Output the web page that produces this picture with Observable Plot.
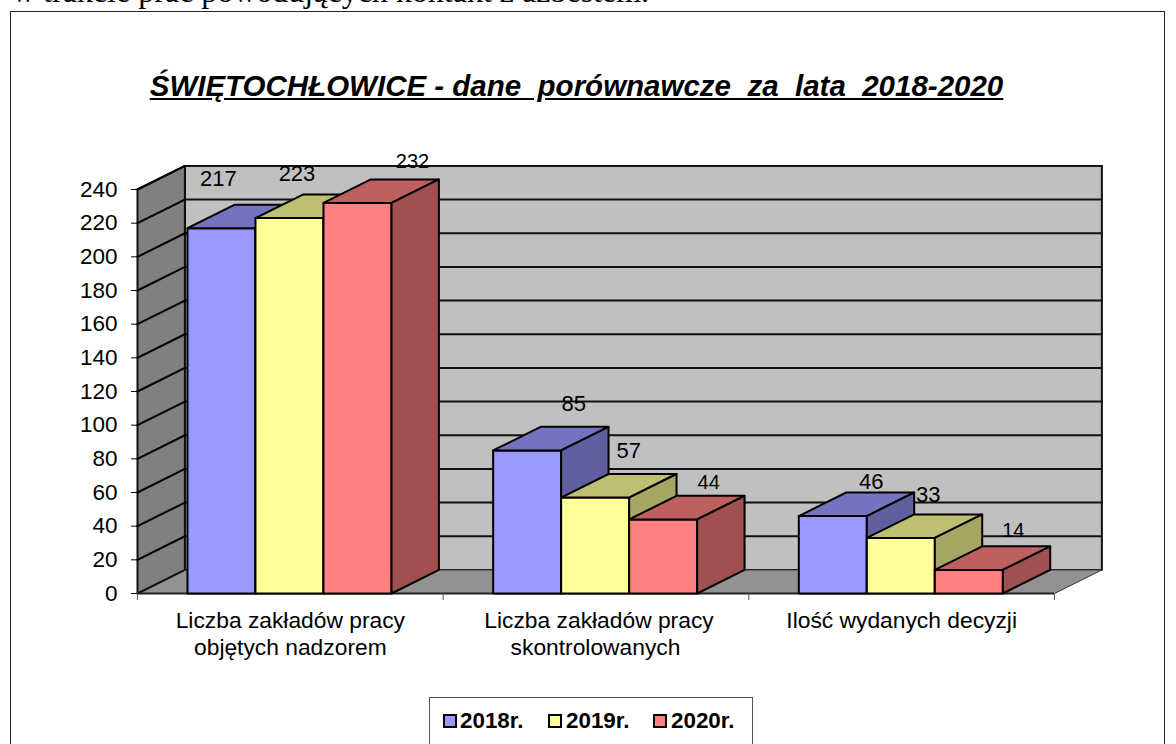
<!DOCTYPE html>
<html lang="pl">
<head>
<meta charset="utf-8">
<script src="https://cdn.jsdelivr.net/npm/d3@7"></script>
<script src="https://cdn.jsdelivr.net/npm/@observablehq/plot@0.6"></script>
<style>
  html, body { margin: 0; padding: 0; background: #fff; overflow: hidden; }
  .page { position: relative; width: 1176px; height: 744px; overflow: hidden; font-family: "Liberation Sans", Arial, sans-serif; color: #000; }
  .lead { position: absolute; left: 12px; top: -25px; font: 32px/32px "Liberation Serif", serif; white-space: nowrap; }
  .frame { position: absolute; left: 10px; top: 11px; width: 1155px; height: 800px; border: 1.5px solid #222; box-sizing: border-box; }
  .title { position: absolute; left: 0; width: 1153px; top: 70px; text-align: center; font: italic bold 29.5px/32px "Liberation Sans", Arial, sans-serif; text-decoration: underline; white-space: pre; }
  #chart { position: absolute; left: 0; top: 150px; }
  #chart svg { display: block; overflow: visible; }
  .legend { position: absolute; left: 429px; top: 697px; width: 324px; height: 70px; border: 1px solid #555; box-sizing: border-box; background: #fff; }
  .legend span.k { position: absolute; top: 16px; width: 10px; height: 10px; border: 2px solid #000; box-sizing: content-box; }
  .legend span.t { position: absolute; top: 11px; font: bold 22.4px/24px "Liberation Sans", Arial, sans-serif; }
</style>
</head>
<body>
<div class="page">
  <div class="lead">w trakcie prac powodujących kontakt z azbestem.</div>
  <div class="frame"></div>
  <div class="title">ŚWIĘTOCHŁOWICE - dane  porównawcze  za  lata  2018-2020</div>
  <div id="chart"></div>
  <div class="legend" id="legend"></div>
</div>
<script>
// Data
const categories = [
  "Liczba zakładów pracy\nobjętych nadzorem",
  "Liczba zakładów pracy\nskontrolowanych",
  "Ilość wydanych decyzji"
];
const series = ["2018r.", "2019r.", "2020r."];
const values2018 = [217, 85, 46];
const values2019 = [223, 57, 33];
const values2020 = [232, 44, 14];
const yTicks = d3.range(0, 241, 20);

// Styles
const frontColors = ["#9999FF", "#FFFF99", "#FF8080"];
const topColors = ["#7373BF", "#BFBF73", "#BF6060"];
const sideColors = ["#6060A0", "#A5A564", "#A05050"];
const wallColor = "#C0C0C0", sideWallColor = "#808080", floorColor = "#929292";

// Oblique projection, in scale units
const depthX = 0.155, depthY = 14;
const barStart = 0.1635, barWidth = 0.2225;

// Value-label nudges, one per bar: [dx, dy, fontSize]
const labelNudges = [
  [[-3, -49, 22], [46.5, -46, 22], [38.5, -34, 22]],
  [[7.5, -44, 22], [33.5, -47, 22], [27.5, -43, 22]],
  [[55, -41, 20], [45.5, -37, 20], [44.5, -39, 20]]
];
// Horizontal nudges of the category label lines
const categoryLineNudges = [[0, 0], [3, -0.5], [0]];

const allValues = [values2018, values2019, values2020];
const faces = [];
function face(id, fill, pts) {
  [...pts, pts[0]].forEach(([x, y]) => faces.push({id, fill, x, y}));
}
categories.forEach((_, c) => {
  allValues.forEach((vals, s) => {
    const x0 = c + barStart + s * barWidth, x1 = x0 + barWidth, v = vals[c];
    face(`f${c}${s}`, frontColors[s], [[x0, 0], [x1, 0], [x1, v], [x0, v]]);
    face(`t${c}${s}`, topColors[s], [[x0, v], [x1, v], [x1 + depthX, v + depthY], [x0 + depthX, v + depthY]]);
    face(`s${c}${s}`, sideColors[s], [[x1, 0], [x1 + depthX, depthY], [x1 + depthX, v + depthY], [x1, v]]);
  });
});

const floor = [[0, 0], [3, 0], [3 + depthX, depthY], [depthX, depthY], [0, 0]].map(([x, y]) => ({x, y}));
const backWall = [[depthX, depthY], [3 + depthX, depthY], [3 + depthX, 240 + depthY], [depthX, 240 + depthY], [depthX, depthY]].map(([x, y]) => ({x, y}));
const leftWall = [[0, 0], [depthX, depthY], [depthX, 240 + depthY], [0, 240], [0, 0]].map(([x, y]) => ({x, y}));
const gridTicks = yTicks.filter(t => t > 0);
const backGrid = gridTicks.flatMap(t => [{t, x: depthX, y: t + depthY}, {t, x: 3 + depthX, y: t + depthY}]);
const sideGrid = gridTicks.flatMap(t => [{t, x: 0, y: t}, {t, x: depthX, y: t + depthY}]);

const labelMarks = categories.flatMap((_, c) => allValues.map((vals, s) =>
  Plot.text([vals[c]], {
    x: () => c + barStart + (s + 0.5) * barWidth,
    y: d => d,
    text: d => String(d),
    dx: labelNudges[s][c][0],
    dy: labelNudges[s][c][1],
    fontSize: labelNudges[s][c][2],
    fill: "#000"
  })));

const categoryMarks = categories.flatMap((label, c) => label.split("\n").map((line, l) =>
  Plot.text([line], {
    x: () => c + 0.5,
    y: () => 0,
    text: d => d,
    dx: categoryLineNudges[c][l],
    dy: 27 + 27 * l,
    fontSize: 22.8,
    fill: "#000"
  })));

const plot = Plot.plot({
  width: 1176,
  height: 510,
  marginLeft: 137,
  marginRight: 122,
  marginTop: 39,
  marginBottom: 67,
  style: {background: "transparent", fontFamily: '"Liberation Sans", Arial, sans-serif', overflow: "visible"},
  x: {domain: [0, 3], axis: null},
  y: {domain: [0, 240], axis: null},
  color: {type: "identity"},
  marks: [
    Plot.line(backWall, {x: "x", y: "y", fill: wallColor, stroke: "#111", strokeWidth: 2}),
    Plot.line(floor, {x: "x", y: "y", fill: floorColor, stroke: "#333", strokeWidth: 1}),
    Plot.line(leftWall, {x: "x", y: "y", fill: sideWallColor, stroke: "#111", strokeWidth: 2}),
    Plot.line(backGrid, {x: "x", y: "y", z: "t", stroke: "#111", strokeWidth: 2}),
    Plot.line(sideGrid, {x: "x", y: "y", z: "t", stroke: "#000", strokeWidth: 2}),
    Plot.ruleY([0], {stroke: "#222", strokeWidth: 2}),
    Plot.line(faces, {x: "x", y: "y", z: "id", fill: "fill", stroke: "#000", strokeWidth: 2}),
    Plot.axisY({ticks: yTicks, tickSize: 6, tickPadding: 14, fontSize: 22.5, label: null, anchor: "left"}),
    Plot.axisX({ticks: [0, 1, 2, 3], tickSize: 7, tickFormat: () => "", label: null, anchor: "bottom", stroke: "#555"}),
    ...categoryMarks,
    ...labelMarks
  ]
});
document.getElementById("chart").appendChild(plot);

const legend = document.getElementById("legend");
const swatchLeft = [13, 118, 223], textLeft = [30, 136, 241];
series.forEach((name, i) => {
  const k = document.createElement("span");
  k.className = "k";
  k.style.left = swatchLeft[i] + "px";
  k.style.background = frontColors[i];
  const t = document.createElement("span");
  t.className = "t";
  t.style.left = textLeft[i] + "px";
  t.textContent = name;
  legend.append(k, t);
});
</script>
</body>
</html>
